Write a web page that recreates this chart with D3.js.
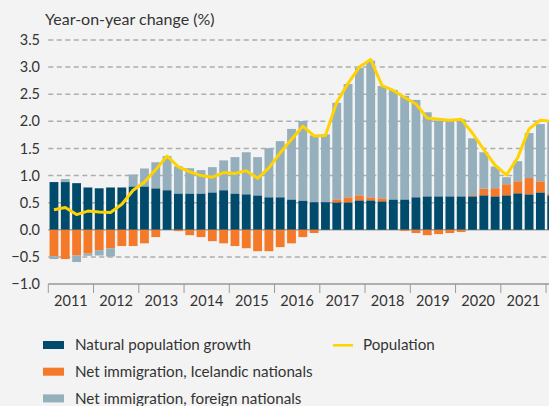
<!DOCTYPE html>
<html><head><meta charset="utf-8">
<script src="https://cdn.jsdelivr.net/npm/d3@7"></script>
<style>
html,body{margin:0;padding:0;background:#f3f3f3;}
svg{display:block;font-family:Lato,"Open Sans",sans-serif;}
</style></head>
<body>
<svg id="chart" width="549" height="406"></svg>
<script>
// Quarters 2011Q1 .. 2022Q1
const years = [2011,2012,2013,2014,2015,2016,2017,2018,2019,2020,2021];
const quarters = [];
for (let y = 2011; y <= 2022; y++) for (let q = 1; q <= 4; q++) if (quarters.length < 45) quarters.push(y + "Q" + q);

const natural = [0.88,0.88,0.86,0.78,0.765,0.78,0.78,0.80,0.80,0.765,0.73,0.67,0.67,0.67,0.69,0.73,0.67,0.655,0.635,0.60,0.60,0.56,0.54,0.51,0.51,0.506,0.506,0.543,0.543,0.525,0.56,0.56,0.60,0.617,0.617,0.617,0.617,0.617,0.636,0.617,0.636,0.673,0.654,0.69,0.636];
const icelandic = [-0.49,-0.54,-0.475,-0.44,-0.375,-0.34,-0.30,-0.30,-0.25,-0.135,0,-0.025,-0.10,-0.135,-0.21,-0.25,-0.30,-0.34,-0.395,-0.395,-0.32,-0.25,-0.135,-0.06,0,0.056,0.093,0.093,0.056,0.056,0,-0.02,-0.06,-0.10,-0.08,-0.06,-0.04,0.02,0.12,0.15,0.204,0.222,0.30,0.204,0.037];
const foreign = [-0.05,0.055,-0.12,-0.04,-0.10,-0.155,0,0.22,0.33,0.48,0.63,0.50,0.465,0.43,0.465,0.55,0.67,0.775,0.705,0.905,1.035,1.30,1.466,1.23,1.25,1.78,2.09,2.35,2.52,2.07,2.02,1.91,1.795,1.55,1.40,1.39,1.42,1.05,0.674,0.40,0.13,0.37,0.83,1.056,1.33];
const population = [0.37,0.41,0.28,0.345,0.33,0.32,0.47,0.73,0.88,1.11,1.36,1.16,1.07,1.0,0.97,1.055,1.04,1.09,0.95,1.14,1.42,1.67,1.91,1.73,1.74,2.35,2.70,3.0,3.14,2.66,2.57,2.44,2.32,2.06,2.04,2.02,2.04,1.78,1.48,1.19,1.01,1.33,1.86,2.02,2.0];
const yTicks = [-1.0,-0.5,0.0,0.5,1.0,1.5,2.0,2.5,3.0,3.5];

const seriesKeys = ["natural","icelandic","foreign"];
const seriesNames = ["Natural population growth","Net immigration, Icelandic nationals","Net immigration, foreign nationals"];
const colors = {natural:"#004b6b", icelandic:"#f47a2a", foreign:"#95afbd", population:"#ffd200"};

const rows = quarters.map((q,i)=>({q, natural:natural[i], icelandic:icelandic[i], foreign:foreign[i]}));

const svg = d3.select("#chart");
const left = 48.3, bandW = 45.25/4;
const x = d3.scaleBand().domain(quarters).range([left, left + bandW*quarters.length]).paddingInner(0.22).paddingOuter(0.11);
const y = d3.scaleLinear().domain([-1, 3.5]).range([284, 40]);
const xEnd = left + bandW*quarters.length;

// gridlines
const g = svg.append("g");
yTicks.filter(t=>t>-1).forEach(t=>{
  g.append("line").attr("x1",left).attr("x2",xEnd).attr("y1",y(t)).attr("y2",y(t))
   .attr("stroke", t===0 ? "#a0a0a0" : "#adadad")
   .attr("stroke-width", 1.5)
   .attr("stroke-dasharray", t===0 ? null : "5,3.5");
});

// y labels
svg.append("g").selectAll("text").data(yTicks).join("text")
  .attr("x",40).attr("y",d=>y(d)).attr("dy","0.35em").attr("text-anchor","end")
  .attr("font-size",14.5).attr("fill","#333")
  .text(d=>d3.format(".1f")(d));

svg.append("text").attr("x",45).attr("y",25).attr("font-size",16).attr("fill","#333").text("Year-on-year change (%)");

// stacked bars
const stack = d3.stack().keys(seriesKeys).offset(d3.stackOffsetDiverging);
const stacked = stack(rows);
svg.append("g").selectAll("g").data(stacked).join("g")
  .attr("fill", d=>colors[d.key])
  .selectAll("rect").data(d=>d).join("rect")
  .attr("x", d=>x(d.data.q)).attr("width", x.bandwidth())
  .attr("y", d=>y(Math.max(d[0],d[1]))).attr("height", d=>Math.abs(y(d[0])-y(d[1])));

// population line
const line = d3.line().x((d,i)=>x(quarters[i])+x.bandwidth()/2).y(d=>y(d));
svg.append("path").datum(population).attr("d",line).attr("fill","none")
  .attr("stroke",colors.population).attr("stroke-width",3).attr("stroke-linejoin","round");

// x axis
svg.append("line").attr("x1",left).attr("x2",xEnd).attr("y1",y(-1)).attr("y2",y(-1)).attr("stroke","#999").attr("stroke-width",1.5);
const yearTicks = d3.range(years.length+1).map(k=>left + k*45.25);
svg.append("g").selectAll("line").data(yearTicks).join("line")
  .attr("x1",d=>d).attr("x2",d=>d).attr("y1",y(-1)).attr("y2",y(-1)+9).attr("stroke","#999").attr("stroke-width",1);
svg.append("g").selectAll("text").data(years).join("text")
  .attr("x",(d,i)=>left + i*45.25 + 45.25/2).attr("y",306).attr("text-anchor","middle")
  .attr("font-size",14.5).attr("fill","#333").text(d=>d);

// legend
const leg = svg.append("g");
seriesKeys.forEach((k,i)=>{
  const cy = 345 + i*26.7;
  leg.append("rect").attr("x",43).attr("y",cy-4).attr("width",21).attr("height",8).attr("fill",colors[k]);
  leg.append("text").attr("x",75).attr("y",cy).attr("dy","0.35em").attr("font-size",15.2).attr("fill","#333").text(seriesNames[i]);
});
leg.append("line").attr("x1",333).attr("x2",353).attr("y1",345.3).attr("y2",345.3).attr("stroke",colors.population).attr("stroke-width",2.5);
leg.append("text").attr("x",363).attr("y",345).attr("dy","0.35em").attr("font-size",15.2).attr("fill","#333").text("Population");
</script>
</body></html>
